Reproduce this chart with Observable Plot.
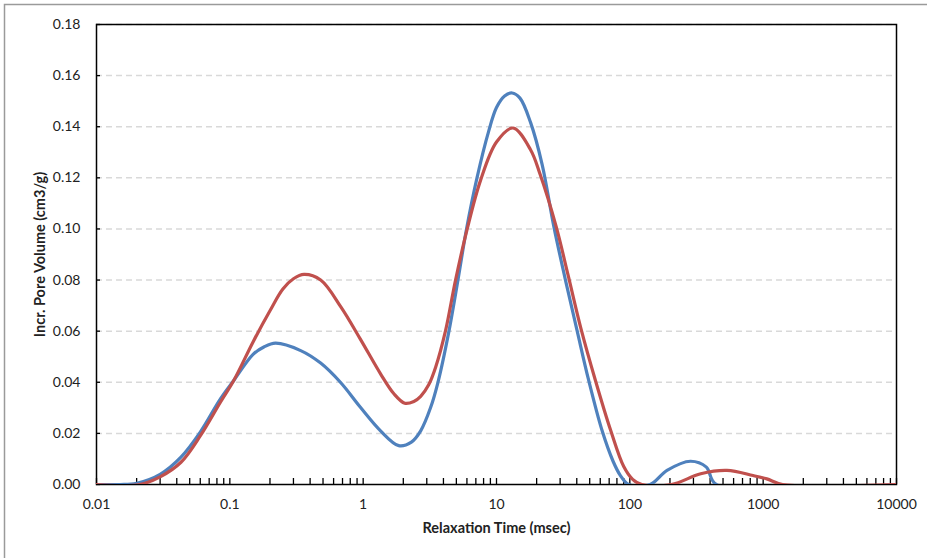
<!DOCTYPE html>
<html>
<head>
<meta charset="utf-8">
<script src="https://cdn.jsdelivr.net/npm/d3@7"></script>
<script src="https://cdn.jsdelivr.net/npm/@observablehq/plot@0.6"></script>
<style>
  html, body { margin: 0; padding: 0; background: #fff; }
  #chart { width: 927px; height: 558px; }
  svg { display: block; }
</style>
</head>
<body>
<div id="chart"></div>
<script>
// Relaxation time (msec) and incremental pore volume (cm3/g)
const blueT = [0.01, 0.015, 0.02, 0.03, 0.043, 0.06, 0.085, 0.107, 0.15, 0.18, 0.22, 0.34, 0.48, 0.68, 0.95, 1.35, 1.85, 2.3, 2.7, 3.2, 3.64, 4.4, 5.14, 5.96, 7.14, 8.71, 10, 11.5, 13.1, 15, 18, 22, 26.9, 32.9, 40.3, 49, 62, 75, 85, 98, 142, 190, 285, 375, 445, 10000];
const blueV = [0, 0, 0.0005, 0.004, 0.0107, 0.0205, 0.0335, 0.0407, 0.051, 0.0538, 0.0553, 0.0524, 0.0475, 0.0398, 0.0303, 0.021, 0.0152, 0.0166, 0.021, 0.030, 0.040, 0.060, 0.080, 0.100, 0.120, 0.138, 0.1475, 0.152, 0.1532, 0.1512, 0.1417, 0.1252, 0.101, 0.080, 0.060, 0.041, 0.021, 0.009, 0.0035, 0, 0, 0.0055, 0.0091, 0.0068, 0, 0];

const redT = [0.01, 0.021, 0.03, 0.043, 0.06, 0.085, 0.107, 0.15, 0.2, 0.25, 0.3, 0.36, 0.48, 0.68, 0.95, 1.35, 1.7, 2.05, 2.4, 2.7, 3.1, 3.5, 4.14, 4.93, 6.03, 7.59, 10, 13.3, 18, 21.2, 28, 34.4, 43, 55, 72, 90, 105, 123, 205, 340, 535, 840, 1065, 1400, 10000];
const redV = [0, 0, 0.003, 0.0087, 0.019, 0.0322, 0.0407, 0.056, 0.068, 0.0765, 0.0805, 0.0822, 0.080, 0.0695, 0.057, 0.0433, 0.0355, 0.0318, 0.0325, 0.0345, 0.039, 0.046, 0.060, 0.080, 0.100, 0.119, 0.134, 0.1395, 0.131, 0.1215, 0.101, 0.082, 0.061, 0.041, 0.021, 0.007, 0.002, 0, 0, 0.0042, 0.0055, 0.0035, 0.0022, 0, 0];

const xTicks = [0.01, 0.1, 1, 10, 100, 1000, 10000];
const xTickLabels = ["0.01", "0.1", "1", "10", "100", "1000", "10000"];
const yTicks = [0, 0.02, 0.04, 0.06, 0.08, 0.10, 0.12, 0.14, 0.16, 0.18];
const yTickLabels = ["0.00", "0.02", "0.04", "0.06", "0.08", "0.10", "0.12", "0.14", "0.16", "0.18"];
const xTitle = "Relaxation Time (msec)";
const yTitle = "Incr. Pore Volume (cm3/g)";

const blue = blueT.map((t, i) => ({t, v: blueV[i]}));
const red = redT.map((t, i) => ({t, v: redV[i]}));
const xMinor = xTicks.slice(0, -1).flatMap(d => [2, 3, 4, 5, 6, 7, 8, 9].map(m => d * m));
const xAll = xTicks.concat(xMinor);
const xLabelData = xTicks.map((t, i) => ({t, label: xTickLabels[i]}));
const yLabelData = yTicks.map((v, i) => ({v, label: yTickLabels[i]}));

const font = "Lato, 'Open Sans', sans-serif";

const svg = Plot.plot({
  width: 927,
  height: 558,
  marginLeft: 96,
  marginRight: 31,
  marginTop: 24,
  marginBottom: 74,
  style: {fontFamily: font, background: "#fff", overflow: "visible"},
  x: {type: "log", domain: [0.01, 10000], axis: null},
  y: {domain: [0, 0.18], axis: null},
  marks: [
    Plot.gridY(yTicks.slice(1), {stroke: "#d9d9d9", strokeOpacity: 1, strokeWidth: 1.5, strokeDasharray: "6,4"}),
    Plot.frame({stroke: "#000", strokeWidth: 1.5}),
    // y tick marks (inward)
    Plot.axisY(yTicks, {tickSize: 4, dx: 4, tickFormat: () => "", label: null, stroke: "#000", strokeWidth: 1.3}),
    // x tick marks (inward), major and minor
    Plot.axisX(xAll, {tickSize: 6, dy: -6, tickFormat: () => "", label: null, stroke: "#000", strokeWidth: 1.3}),
    Plot.line(blue, {x: "t", y: "v", stroke: "#4F81BD", strokeWidth: 3.2, curve: "catmull-rom", clip: true}),
    Plot.line(red, {x: "t", y: "v", stroke: "#C0504D", strokeWidth: 3.2, curve: "catmull-rom", clip: true}),
    // tick labels
    Plot.text(yLabelData, {y: "v", text: "label", frameAnchor: "left", textAnchor: "end", dx: -16, fontSize: 14, fill: "#222"}),
    Plot.text(xLabelData, {x: "t", text: "label", frameAnchor: "bottom", textAnchor: "middle", lineAnchor: "middle", dy: 20, fontSize: 14, fill: "#222"}),
    // axis titles
    Plot.text([xTitle], {frameAnchor: "bottom", textAnchor: "middle", lineAnchor: "middle", dy: 44, text: d => d, fontSize: 14.5, fontWeight: "bold", fill: "#222"}),
    Plot.text([yTitle], {frameAnchor: "left", textAnchor: "middle", lineAnchor: "middle", dx: -56, rotate: -90, text: d => d, fontSize: 14.5, fontWeight: "bold", fill: "#222"})
  ]
});

// outer chart-area border (only the left and top edges fall inside the picture)
d3.select(svg).insert("path", ":first-child")
  .attr("d", "M4.5,1000V4.5H1000")
  .attr("fill", "none")
  .attr("stroke", "#9a9a9a")
  .attr("stroke-width", 1.5);

document.getElementById("chart").appendChild(svg);
</script>
</body>
</html>
